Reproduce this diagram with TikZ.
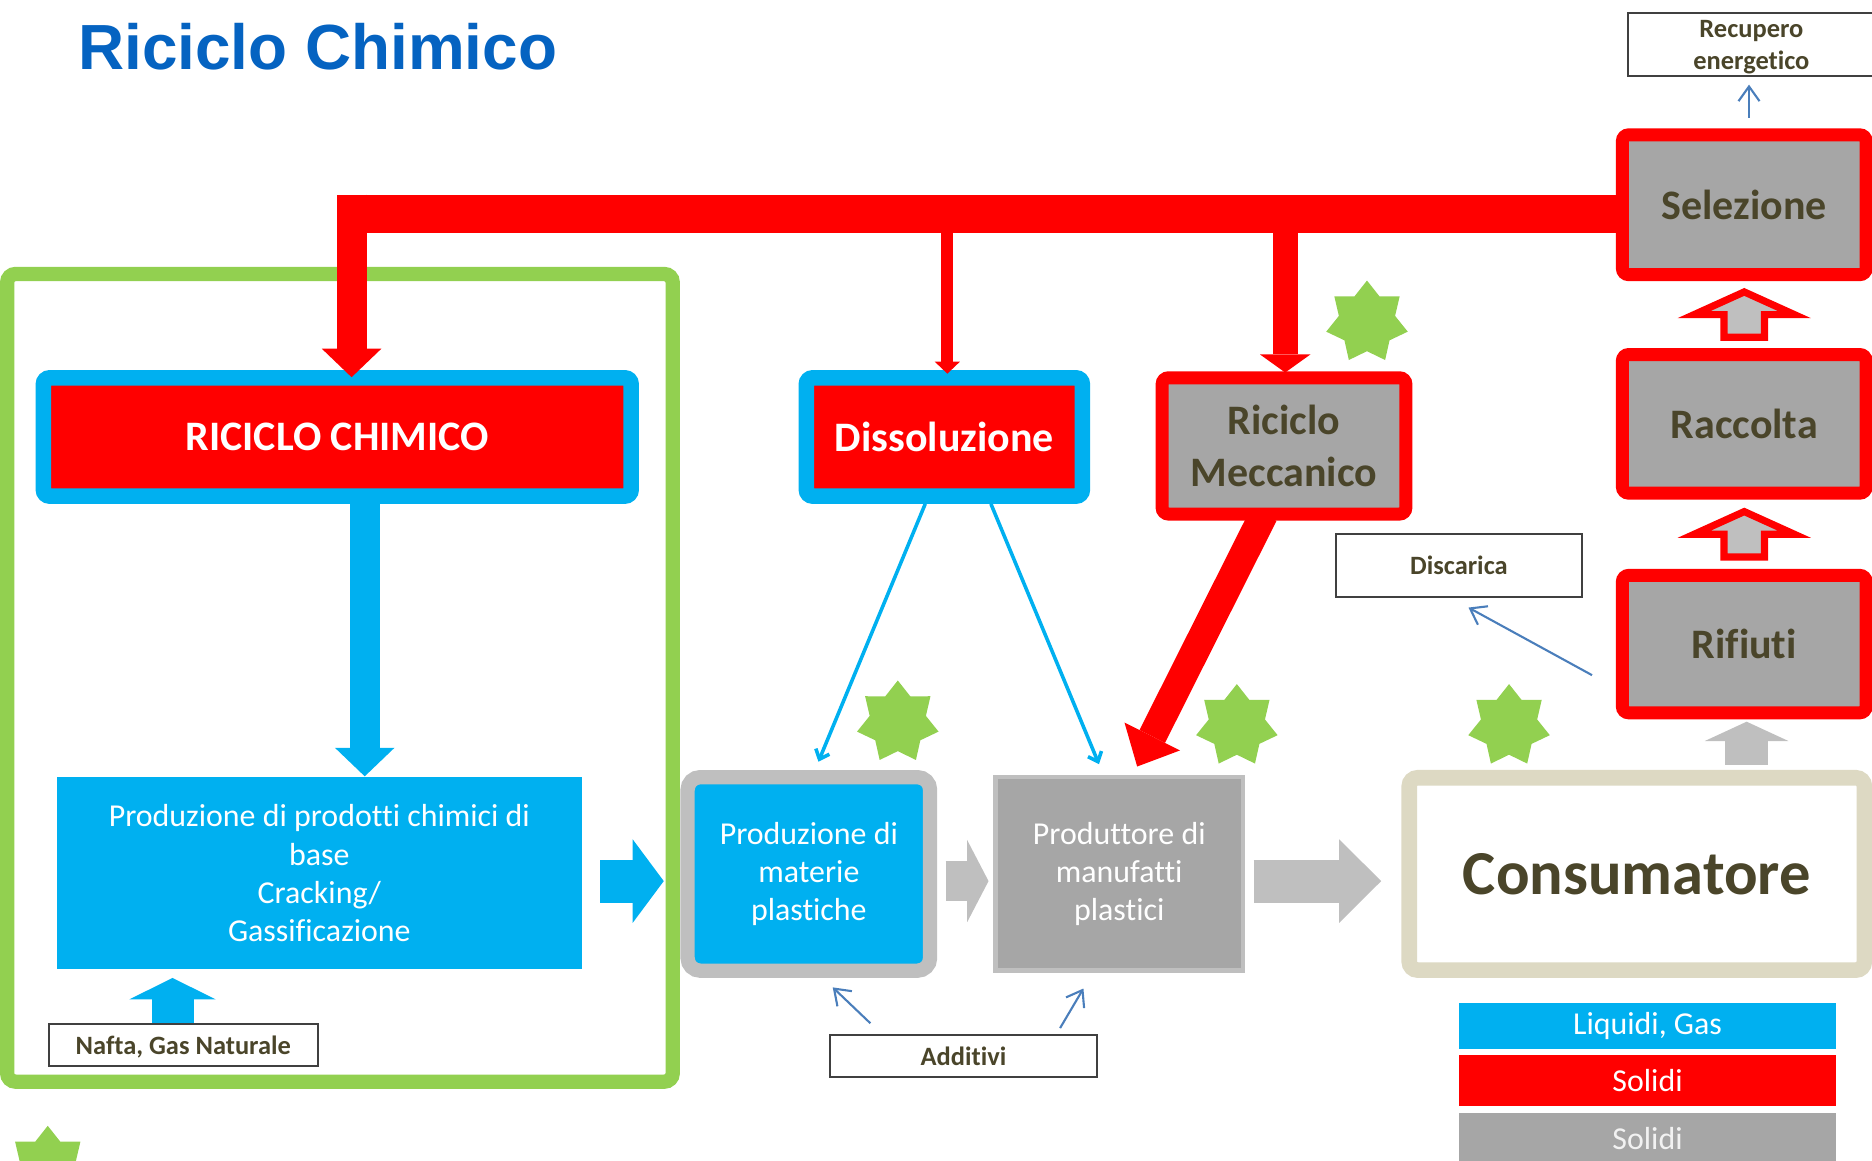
\documentclass[tikz,border=0pt]{standalone}
\usepackage{fontspec}
\setmainfont{Carlito}[Ligatures=NoCommon]
\newfontfamily\titlefont{Liberation Sans}
\usetikzlibrary{arrows.meta,calc,shapes.geometric}

\definecolor{ciano}{HTML}{00B0F0}
\definecolor{rosso}{HTML}{FF0000}
\definecolor{grigio}{HTML}{A6A6A6}
\definecolor{grigiochiaro}{HTML}{BFBFBF}
\definecolor{verde}{HTML}{92D050}
\definecolor{oliva}{HTML}{4A452A}
\definecolor{sabbia}{HTML}{DDD9C3}
\definecolor{titolo}{HTML}{0563C1}
\definecolor{lineablu}{HTML}{4A7EBB}
\definecolor{bordo}{HTML}{404040}
\definecolor{grigiotesto}{HTML}{F2F2F2}

\begin{document}
\begin{tikzpicture}[x=0.01cm,y=-0.01cm,
    box/.style={rectangle,inner sep=0pt,align=center},
    testo/.style={font=\fontsize{7.6}{9.1}\selectfont},
    processo/.style={box,draw=ciano,fill=rosso,line width=3.7pt,rounded corners=1.5pt,
      text=white,font=\bfseries\fontsize{10}{12.2}\selectfont},
    solido/.style={box,draw=rosso,fill=grigio,line width=3.1pt,rounded corners=1.5pt,
      text=oliva,font=\bfseries\fontsize{10}{12.2}\selectfont},
    etichetta/.style={box,draw=bordo,fill=white,line width=0.5pt,text depth=0pt,
      text=oliva,font=\bfseries\fontsize{6.3}{7.7}\selectfont},
    stella/.style={star,star points=7,star point ratio=1.45,fill=verde,
      inner sep=0pt,minimum size=0.70cm},
    cava/.style={draw=rosso,fill=grigiochiaro,line width=1.7pt,line join=miter},
    filo/.style={draw=lineablu,line width=0.5pt,-{Straight Barb[length=3.5pt,width=5pt]}},
    tip/.style 2 args={-{Triangle[width=#1,length=#2,line width=0pt 0 0]}}]

    \useasboundingbox (0,0) rectangle (1568,972);

    % Titolo
    \node[anchor=base west,inner sep=0pt,text=titolo,
      font=\titlefont\bfseries\fontsize{15.2}{18}\selectfont] (titolo) at (65,58) {Riciclo Chimico};

    % Riciclo e filiera dei solidi
    \node[processo,minimum width=4.92cm,minimum height=0.99cm] (chimico) at (282.5,366) {RICICLO CHIMICO};
    \node[processo,minimum width=2.31cm,minimum height=0.99cm] (dissol) at (791,366) {Dissoluzione};
    \node[solido,minimum width=2.04cm,minimum height=1.14cm] (mecc) at (1075.5,373.5) {Riciclo\\Meccanico};
    \node[solido,minimum width=2.04cm,minimum height=1.17cm] (selez) at (1461,171.5) {Selezione};
    \node[solido,minimum width=2.04cm,minimum height=1.16cm] (raccolta) at (1461,355) {Raccolta};
    \node[solido,minimum width=2.04cm,minimum height=1.15cm] (rifiuti) at (1461,539.5) {Rifiuti};

    % Etichette
    \node[etichetta,minimum width=2.06cm,minimum height=0.53cm] (recupero) at (1467,37.5) {Recupero\\energetico};
    \node[etichetta,minimum width=2.06cm,minimum height=0.53cm] (discarica) at (1222,473.5) {Discarica};
    \node[etichetta,minimum width=2.25cm,minimum height=0.35cm] (nafta) at (153.5,875.5) {Nafta, Gas Naturale};
    \node[etichetta,minimum width=2.24cm,minimum height=0.35cm] (additivi) at (807,884.5) {Additivi};

    % Produzione
    \node[box,fill=ciano,text=white,testo,minimum width=4.39cm,minimum height=1.61cm] (prodchim)
      at (267.5,731.5) {Produzione di prodotti chimici di\\base\\Cracking/\\Gassificazione};
    \node[box,draw=grigiochiaro,fill=ciano,line width=3.4pt,rounded corners=3pt,text=white,testo,
      minimum width=2.03cm,minimum height=1.62cm] (materie) at (677.5,732) {Produzione di\\materie\\plastiche};
    \node[box,draw=grigiochiaro,fill=grigio,line width=1.1pt,text=white,testo,
      minimum width=2.07cm,minimum height=1.62cm] (produttore) at (937.5,732) {Produttore di\\manufatti\\plastici};
    \node[box,draw=sabbia,fill=white,line width=3.7pt,rounded corners=2pt,text=oliva,
      font=\bfseries\fontsize{14.9}{18}\selectfont,
      minimum width=3.81cm,minimum height=1.61cm] (consum) at (1371,732) {Consumatore};

    % Cornice verde
    \draw[verde,line width=3.4pt,rounded corners=2pt] (6,229.5) rectangle (563.5,906);

    % Legenda
    \node[box,fill=ciano,text=white,testo,minimum width=3.16cm,minimum height=0.39cm] (leg1) at (1380,859.5) {Liquidi, Gas};
    \node[box,fill=rosso,text=white,testo,minimum width=3.16cm,minimum height=0.42cm] (leg2) at (1380,905) {Solidi};
    \node[box,fill=grigio,text=grigiotesto,testo,minimum width=3.16cm,minimum height=0.43cm] (leg3) at (1380,953.5) {Solidi};

    % Stelle
    \foreach \p [count=\i] in {(1145,270),(752,605),(1036,608),(1264,608),(40,978)}
      \node[stella] (st\i) at \p {};

    % Connettori rossi
    \coordinate (bus) at (1360,179);
    \draw[rosso,line width=9.1pt] (bus) -- (282,179);
    \draw[rosso,line width=7.1pt,tip={14.2pt}{6.8pt}] (294.5,163) -- ($(chimico.north)+(12,6)$);
    \draw[rosso,line width=2.85pt,tip={6pt}{2.85pt}] ($(dissol.north |- bus)+(2.5,0)$) -- ($(dissol.north)+(2.5,3)$);
    \draw[rosso,line width=6pt,tip={12pt}{4.3pt}] ($(mecc.north |- bus)+(1,0)$) -- ($(mecc.north)+(1,1)$);
    \draw[rosso,line width=6.8pt,tip={14.8pt}{8pt}] ($(mecc.south)+(-17,-5)$) -- ($(produttore.north)+(15,-7)$);

    % Frecce cave
    \foreach \a/\b in {raccolta/selez,rifiuti/raccolta}
      \draw[cava] ($(\a.north)!0.5!(\b.south)+(0,19)$) ++(-17,0) -- ++(0,-19) -- ++(-25,0)
        -- ++(42,-19) -- ++(42,19) -- ++(-25,0) -- ++(0,19) -- cycle;

    % Connettori blu
    \draw[ciano,line width=7.1pt,tip={14.2pt}{6.8pt}] ($(chimico.south)+(23,0)$) -- ($(prodchim.north)+(38,0)$);
    \draw[ciano,line width=10pt,tip={20.5pt}{5.1pt}] ($(nafta.north)+(-9,0)$) -- ++(0,-38);
    \draw[ciano,line width=10.2pt,tip={19.9pt}{7.4pt}] ($(prodchim.east)+(15,6.5)$) -- ($(materie.west)+(-14,6)$);
    \draw[ciano,line width=0.85pt,-{Straight Barb[length=2pt,width=3.5pt]}] ($(dissol.south)+(-16,0)$) -- ($(materie.north)+(8,-7)$);
    \draw[ciano,line width=0.85pt,-{Straight Barb[length=2pt,width=3.5pt]}] ($(dissol.south)+(39,0)$) -- ($(produttore.north)+(-17,-9)$);

    % Connettori grigi
    \draw[grigiochiaro,line width=9.4pt,tip={19.6pt}{5.1pt}] ($(materie.east)+(7,6)$) -- ($(produttore.west)+(-4,6)$);
    \draw[grigiochiaro,line width=10.2pt,tip={19.9pt}{10pt}] ($(produttore.east)+(7,6)$) -- ($(consum.west)+(-17,6)$);
    \draw[grigiochiaro,line width=10.2pt,tip={19.9pt}{4.6pt}] ($(rifiuti.south)+(2,38)$) -- ($(rifiuti.south)+(2,2)$);

    % Connettori sottili
    \draw[filo] ($(selez.north)+(4,-9)$) -- ($(recupero.south)+(-2,6)$);
    \draw[filo] ($(rifiuti.west)+(-20,26)$) -- ($(discarica.south)+(8,8)$);
    \draw[filo] ($(additivi.north west)+(35,-9)$) -- ($(materie.south)+(20,8)$);
    \draw[filo] ($(additivi.north east)+(-32,-5)$) -- ($(produttore.south)+(-30,13)$);

\end{tikzpicture}
\end{document}
